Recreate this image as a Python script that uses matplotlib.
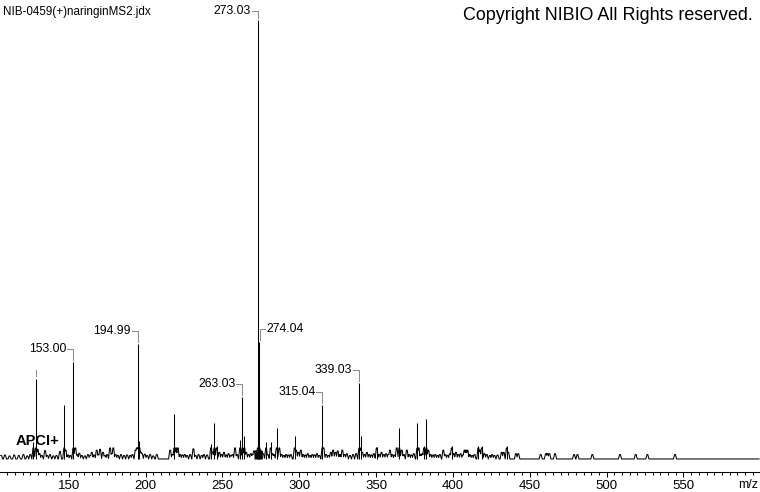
#!/usr/bin/env python3
# -*- coding: utf-8 -*-
# MS2 spectrum of naringin (APCI+), redrawn with matplotlib

import numpy as np
import matplotlib.pyplot as plt

plt.rcParams['font.family'] = ['Liberation Sans', 'DejaVu Sans']

# peak list: m/z and relative intensity (%)
mz = [106, 108.5, 111.5, 114.5, 117.5, 120.5, 123, 125,
      127, 128.7, 129.8, 131, 132.5, 134.6, 136, 137.8, 140, 142, 144.3,
      147.1, 148, 149.5, 151, 153.0, 154.3, 155.5, 156.9, 158.5, 160.5,
      162.5, 164, 165, 166.5, 168.2, 169.3, 170.4, 172.3, 173.5, 175,
      176.9, 178, 179, 180.5, 182, 184, 186, 188, 190, 191.5, 193.5,
      194.3, 194.99, 196, 197, 197.7, 199.5, 201, 203, 205, 207.3,
      216, 217.5, 218.7, 219.8, 221, 222.5, 224, 225.5, 227, 229, 231.1,
      232.5, 234.5, 236.5, 238, 240, 242.6, 243.5, 244.8, 246.3, 248,
      249.5, 251, 252.5, 254, 255.5, 256.5, 258.2, 259.5, 261.5, 263.03,
      264.3, 265.5, 267, 268.5, 269.5, 270.5, 271.5, 272.2, 273.03,
      273.8, 274.04, 274.8, 275.6, 276.5, 278.4, 279.5, 281.4, 282.5,
      283.5, 285.3, 287, 288.5, 290, 291.5, 293, 294.5, 297, 298, 299.5,
      301, 302.5, 304, 305.5, 307, 308.5, 310, 311.5, 313, 315.04, 315.8,
      317.5, 319, 320.5, 322, 323.5, 325, 326.5, 328, 329.5, 331, 333,
      335, 337, 339.03, 340, 341, 342.5, 344, 345.5, 347, 348.5, 350.4,
      352, 353.5, 355, 356.5, 358, 359, 360.5, 362, 363.4, 365.1, 366.7,
      368, 370, 371.5, 373, 374.5, 376.8, 377.7, 379, 380, 381.2, 382.7,
      384, 385.5, 387, 388.5, 390, 391.5, 393.7, 395, 396.5, 398, 399.2,
      400.5, 402, 403.5, 405, 406.5, 407.5, 408.5, 409.5, 411, 412.5, 414,
      416.5, 417.5, 418.8, 420.5, 422, 424, 425.5, 427, 429, 431.7, 433,
      435, 436, 441, 442.5, 457.1, 460.5, 461.5, 462.7, 466.4, 478.8, 481,
      490.7, 508.7, 518.9, 526.5, 544.5]
intensity = [0.8, 0.9, 0.7, 0.9, 0.8, 1.0, 0.7, 1.0,
             3.9, 18.1, 2.2, 1.2, 0.8, 1.9, 0.8, 1.0, 0.7, 0.8, 1.7,
             12.2, 2.0, 0.9, 0.8, 22.0, 2.5, 1.0, 1.3, 0.8, 0.7,
             1.0, 0.8, 1.5, 0.9, 2.0, 1.0, 2.2, 1.5, 0.8, 1.0,
             2.5, 1.2, 2.5, 1.0, 0.8, 1.0, 0.8, 0.9, 0.8, 1.0, 2.0,
             2.5, 26.1, 4.0, 1.5, 1.2, 1.1, 0.8, 1.0, 0.7, 1.0,
             2.0, 1.0, 10.2, 2.5, 2.5, 1.0, 0.9, 1.0, 0.8, 1.0, 2.3,
             0.8, 1.0, 0.8, 1.0, 0.9, 3.5, 1.5, 8.2, 3.0, 1.5,
             1.0, 1.5, 0.9, 1.2, 0.8, 1.0, 2.5, 1.0, 4.3, 14.0,
             5.2, 1.5, 1.0, 1.2, 1.0, 1.8, 1.8, 1.8, 99.8,
             1.8, 26.6, 1.8, 1.8, 1.2, 3.8, 1.0, 3.8, 1.2,
             1.0, 7.0, 2.5, 1.0, 0.8, 1.0, 0.9, 1.0, 5.2, 2.0, 1.5,
             2.0, 1.0, 0.9, 1.2, 0.8, 1.0, 0.9, 1.2, 0.8, 12.2, 2.5,
             1.0, 0.8, 1.5, 2.0, 1.5, 1.8, 1.0, 2.0, 1.0, 1.2, 0.8,
             1.0, 1.2, 17.3, 5.2, 1.5, 1.0, 1.5, 1.0, 0.9, 1.2, 2.8,
             1.0, 1.5, 1.0, 1.2, 1.0, 2.0, 1.0, 0.9, 2.5, 7.0, 2.0,
             1.0, 2.0, 1.0, 0.9, 1.2, 8.1, 2.5, 1.0, 1.2, 3.0, 9.1,
             2.0, 1.0, 0.9, 1.0, 0.8, 1.0, 2.0, 1.0, 0.8, 1.2, 3.0,
             1.2, 1.5, 1.0, 1.2, 0.9, 2.0, 2.0, 2.0, 1.0, 0.8, 1.0,
             3.0, 2.0, 3.0, 1.2, 1.0, 0.8, 1.0, 0.8, 0.9, 1.5, 1.5,
             3.0, 1.5, 1.2, 1.2, 1.0, 1.2, 1.2, 1.2, 1.2, 1.0, 1.0,
             1.0, 1.0, 1.0, 1.0, 1.0]

# annotated peaks and which side the label sits on
label_mz = [153.00, 194.99, 263.03, 273.03, 274.04, 315.04, 339.03]
label_side = ['left', 'left', 'left', 'left', 'right', 'left', 'left']
mark_only_mz = [128.7]          # peak with a bracket but no text

tick_major = list(range(150, 600, 50))

W, H = 760, 492
fig = plt.figure(figsize=(W / 100, H / 100), dpi=100)
ax_bottom_px = 471.7
ax = fig.add_axes([0, (H - ax_bottom_px) / H, 1, ax_bottom_px / H])

xmin, xmax = 105.3, 599.8
ymin, ymax = -2.89, 104.3
ax.set_xlim(xmin, xmax)
ax.set_ylim(ymin, ymax)
px_x = W / (xmax - xmin)
px_y = ax_bottom_px / (ymax - ymin)

# profile: small trapezoid bumps + thin sticks for the tall ones
xg = np.arange(105.8, 599.2, 0.05)
yg = np.zeros_like(xg)
for m, h in zip(mz, intensity):
    b = min(h, 2.5)
    yg = np.maximum(yg, np.clip((1.0 - np.abs(xg - m)) / 0.7, 0, 1) * b)
ax.plot(xg, yg, color='black', lw=0.75)
blk = (xg >= 270.5) & (xg <= 276.0)
ax.fill_between(xg, 0, yg, where=blk, color='black', lw=0)
for m, h in zip(mz, intensity):
    if h > 2.5:
        ax.vlines(m, 0, h, color='black', lw=0.75)

# peak labels with gray brackets
gray = '#8c8c8c'
for m, side in zip(label_mz, label_side):
    h = intensity[mz.index(m)]
    ty = min(h + 13 / px_y, 101.9)
    if side == 'left':
        ax.text(m - 7 / px_x, ty, '%.2f' % m, ha='right', va='center',
                fontsize=8.7, color='black')
        ax.plot([m - 6 / px_x, m, m], [ty, ty, h + 2 / px_y],
                color=gray, lw=0.75)
    else:
        ax.text(m + 7 / px_x, ty, '%.2f' % m, ha='left', va='center',
                fontsize=8.7, color='black')
        ax.plot([m + 6 / px_x, m + 1 / px_x, m + 1 / px_x],
                [ty, ty, h + 2 / px_y], color=gray, lw=0.75)
for m in mark_only_mz:
    h = intensity[mz.index(m)]
    ax.plot([m, m], [h + 3 / px_y, h + 9 / px_y], color=gray, lw=0.75)

# axis
for s in ['top', 'left', 'right']:
    ax.spines[s].set_visible(False)
ax.spines['bottom'].set_linewidth(0.75)
ax.set_yticks([])
ax.set_xticks(tick_major)
ax.set_xticks(np.arange(110, 600, 5), minor=True)
ax.tick_params(axis='x', which='major', length=3.6, width=0.75,
               labelsize=9.5, pad=2.2)
ax.tick_params(axis='x', which='minor', length=2.0, width=0.75)

# texts
fig.text(748 / W, 1 - 485 / H, 'm/z', ha='center', va='center', fontsize=9)
fig.text(3 / W, 1 - 15 / H, 'NIB-0459(+)naringinMS2.jdx', ha='left',
         va='baseline', fontsize=8.4)
fig.text(753 / W, 1 - 20 / H, 'Copyright NIBIO All Rights reserved.',
         ha='right', va='baseline', fontsize=12.9)
fig.text(16 / W, 1 - 445 / H, 'APCI+', ha='left', va='baseline',
         fontsize=10.5, fontweight='bold')

plt.savefig('out.png', dpi=100, facecolor='white')
